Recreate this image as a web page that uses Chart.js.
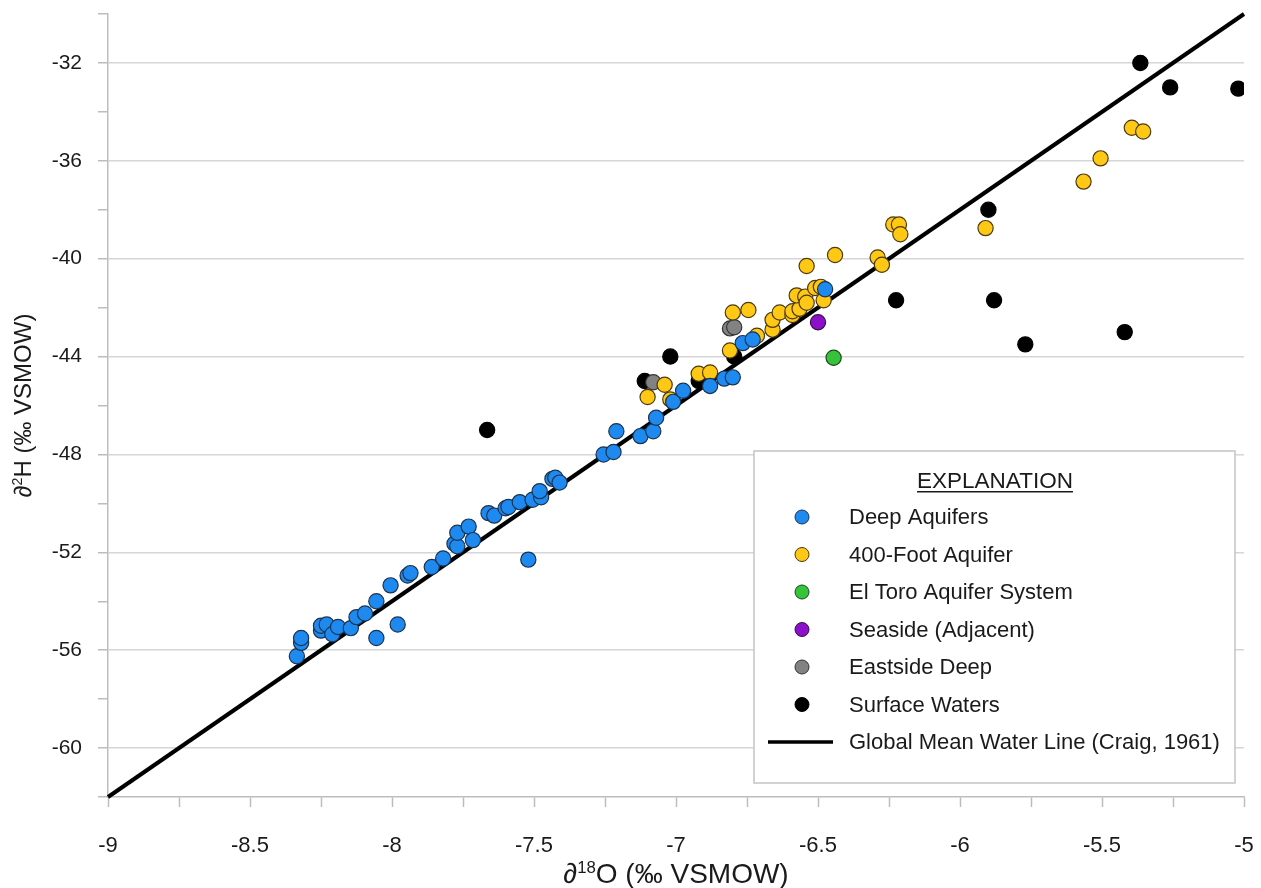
<!DOCTYPE html>
<html>
<head>
<meta charset="utf-8">
<script src="https://cdn.jsdelivr.net/npm/chart.js@4.4.1/dist/chart.umd.min.js"></script>
<style>
  html, body { margin: 0; padding: 0; background: #fff; }
  #wrap { width: 1261px; height: 888px; }
</style>
</head>
<body>
<div id="wrap"><canvas id="isotopes"></canvas></div>
<script>
// d18O (x) and d2H (y), per mil VSMOW, one pair of arrays per source
const deepO = [-8.335, -8.32, -8.32, -8.25, -8.25, -8.23, -8.21, -8.19, -8.145, -8.125,
  -8.095, -8.055, -8.055, -8.005, -7.98, -7.945, -7.935, -7.86, -7.82, -7.78,
  -7.77, -7.77, -7.73, -7.715, -7.66, -7.64, -7.6, -7.59, -7.55, -7.505,
  -7.475, -7.48, -7.52, -7.435, -7.425, -7.41, -7.255, -7.22, -7.21, -7.125,
  -7.08, -7.07, -7.01, -6.975, -6.88, -6.83, -6.8, -6.765, -6.73, -6.475];
const deepH = [-56.25, -55.7, -55.5, -55.2, -55.0, -54.95, -55.35, -55.05, -55.1, -54.65,
  -54.5, -54.0, -55.5, -53.35, -54.95, -52.95, -52.85, -52.6, -52.25, -51.65,
  -51.75, -51.2, -50.95, -51.5, -50.4, -50.5, -50.2, -50.15, -49.95, -49.85,
  -49.75, -49.5, -52.3, -49.0, -48.95, -49.15, -48.0, -47.9, -47.05, -47.25,
  -47.05, -46.5, -45.85, -45.4, -45.2, -44.9, -44.85, -43.45, -43.3, -41.25];

const fourHundredO = [-7.1, -7.04, -7.02, -6.92, -6.88, -6.81, -6.8, -6.745, -6.715, -6.66,
  -6.66, -6.635, -6.59, -6.59, -6.565, -6.575, -6.545, -6.54, -6.54, -6.51,
  -6.49, -6.48, -6.44, -6.29, -6.275, -6.235, -6.215, -6.21, -5.91, -5.565,
  -5.505, -5.395, -5.355];
const fourHundredH = [-45.65, -45.15, -45.75, -44.7, -44.65, -43.75, -42.2, -42.1, -43.15, -42.9,
  -42.5, -42.2, -42.3, -42.15, -42.05, -41.5, -41.55, -41.8, -40.3, -41.2,
  -41.15, -41.7, -39.85, -39.95, -40.25, -38.6, -38.6, -39.0, -38.75, -36.85,
  -35.9, -34.65, -34.8];

const elToroO = [-6.445];
const elToroH = [-44.05];

const seasideO = [-6.5];
const seasideH = [-42.6];

const eastsideO = [-7.08, -6.81, -6.795];
const eastsideH = [-45.05, -42.85, -42.8];

const surfaceO = [-7.665, -7.11, -7.02, -6.92, -6.795, -6.225, -5.9, -5.88, -5.77, -5.42,
  -5.365, -5.26, -5.02];
const surfaceH = [-47.0, -45.0, -44.0, -45.0, -44.0, -41.7, -38.0, -41.7, -43.5, -43.0,
  -32.0, -33.0, -33.05];

// Craig (1961) global meteoric water line, end points across the plot
const gmwlO = [-9, -5];
const gmwlH = [-62, -30];

// axis ticks
const xMin = -9, xMax = -5, xStep = 0.25, xLabelStep = 0.5;
const yMin = -62, yMax = -30, yStep = 2, yLabelStep = 4;

const zip = (xs, ys) => xs.map((x, i) => ({ x: x, y: ys[i] }));

const SANS = "'Liberation Sans', Arial, sans-serif";
const INK = '#1a1a1a';

function pointSet(label, xs, ys, fill, border, order) {
  return {
    type: 'scatter',
    label: label,
    data: zip(xs, ys),
    backgroundColor: fill,
    borderColor: border,
    borderWidth: 1.2,
    pointRadius: 7.6,
    pointHoverRadius: 7.6,
    order: order
  };
}

const datasets = [
  pointSet('Deep Aquifers', deepO, deepH, '#1e8af0', '#1b3350', 1),
  pointSet('400-Foot Aquifer', fourHundredO, fourHundredH, '#ffc814', '#4a3a10', 4),
  pointSet('El Toro Aquifer System', elToroO, elToroH, '#36c23a', '#1c4a1e', 2),
  pointSet('Seaside (Adjacent)', seasideO, seasideH, '#8b10c8', '#35104a', 3),
  pointSet('Eastside Deep', eastsideO, eastsideH, '#828282', '#333333', 5),
  pointSet('Surface Waters', surfaceO, surfaceH, '#000000', '#000000', 6),
  {
    type: 'line',
    label: 'Global Mean Water Line (Craig, 1961)',
    data: zip(gmwlO, gmwlH),
    borderColor: '#000000',
    borderWidth: 4,
    pointRadius: 0,
    fill: false,
    clip: false,
    order: 10
  }
];

// text with superscript runs, e.g. the isotope mass numbers
function drawRuns(ctx, runs, cx, cy, size) {
  let total = 0;
  runs.forEach(r => {
    ctx.font = (r.sup ? size * 0.6 : size) + 'px ' + SANS;
    r.w = ctx.measureText(r.t).width;
    total += r.w;
  });
  let x = cx - total / 2;
  ctx.textAlign = 'left';
  ctx.textBaseline = 'alphabetic';
  runs.forEach(r => {
    ctx.font = (r.sup ? size * 0.6 : size) + 'px ' + SANS;
    ctx.fillText(r.t, x, r.sup ? cy - size * 0.36 : cy);
    x += r.w;
  });
}

const axisTitles = {
  id: 'axisTitles',
  afterDraw(chart) {
    const ctx = chart.ctx;
    const area = chart.chartArea;
    ctx.save();
    ctx.fillStyle = INK;
    drawRuns(ctx, [{ t: '\u2202' }, { t: '18', sup: true }, { t: 'O (\u2030 VSMOW)' }],
      (area.left + area.right) / 2, 883, 28);
    ctx.translate(31, (area.top + area.bottom) / 2);
    ctx.rotate(-Math.PI / 2);
    drawRuns(ctx, [{ t: '\u2202' }, { t: '2', sup: true }, { t: 'H (\u2030 VSMOW)' }],
      0, 0, 24);
    ctx.restore();
  }
};

// boxed "EXPLANATION" key in the lower right of the plot
const explanation = {
  id: 'explanation',
  afterDraw(chart) {
    const ctx = chart.ctx;
    const box = { left: 754, top: 451, right: 1235, bottom: 783 };
    ctx.save();
    ctx.fillStyle = '#ffffff';
    ctx.fillRect(box.left, box.top, box.right - box.left, box.bottom - box.top);
    ctx.strokeStyle = '#c4c4c4';
    ctx.lineWidth = 1.5;
    ctx.strokeRect(box.left, box.top, box.right - box.left, box.bottom - box.top);

    ctx.fillStyle = INK;
    ctx.font = '22.5px ' + SANS;
    ctx.textAlign = 'center';
    ctx.textBaseline = 'alphabetic';
    const title = 'EXPLANATION';
    const tx = 995, ty = 488;
    ctx.fillText(title, tx, ty);
    const tw = ctx.measureText(title).width;
    ctx.fillRect(tx - tw / 2, ty + 3, tw, 1.5);

    const rowTop = 517, rowGap = 37.5;
    ctx.font = '22px ' + SANS;
    ctx.textAlign = 'left';
    ctx.textBaseline = 'middle';
    chart.data.datasets.forEach((ds, i) => {
      const y = rowTop + i * rowGap;
      if (ds.type === 'line') {
        ctx.strokeStyle = ds.borderColor;
        ctx.lineWidth = 3.5;
        ctx.beginPath();
        ctx.moveTo(768, y);
        ctx.lineTo(833, y);
        ctx.stroke();
      } else {
        ctx.beginPath();
        ctx.arc(802, y, 7, 0, Math.PI * 2);
        ctx.fillStyle = ds.backgroundColor;
        ctx.fill();
        ctx.lineWidth = 1;
        ctx.strokeStyle = ds.borderColor;
        ctx.stroke();
      }
      ctx.fillStyle = INK;
      ctx.fillText(ds.label, 849, y + 1);
    });
    ctx.restore();
  }
};

const isMultiple = (v, step) => Math.abs(v / step - Math.round(v / step)) < 1e-6;

new Chart(document.getElementById('isotopes'), {
  data: { datasets: datasets },
  plugins: [axisTitles, explanation],
  options: {
    responsive: true,
    maintainAspectRatio: false,
    devicePixelRatio: 1,
    animation: false,
    layout: { padding: { top: 14, right: 17, left: 0, bottom: 0 } },
    plugins: {
      legend: { display: false },
      tooltip: { enabled: false }
    },
    scales: {
      x: {
        type: 'linear',
        min: xMin,
        max: xMax,
        afterFit(scale) {
          scale.height = 91;
          scale.paddingLeft = 0;
          scale.paddingRight = 0;
        },
        afterBuildTicks(scale) {
          const t = [];
          for (let v = xMin; v <= xMax + 1e-9; v += xStep) t.push({ value: +v.toFixed(2) });
          scale.ticks = t;
        },
        ticks: {
          autoSkip: false,
          maxRotation: 0,
          padding: 26,
          color: INK,
          font: { family: SANS, size: 22 },
          callback: v => isMultiple(v, xLabelStep) ? String(+v.toFixed(2)) : ''
        },
        grid: {
          drawOnChartArea: false,
          drawTicks: true,
          tickLength: 10,
          tickColor: '#bdbdbd',
          tickWidth: 1.5
        },
        border: { color: '#bdbdbd', width: 1.5 }
      },
      y: {
        type: 'linear',
        min: yMin,
        max: yMax,
        afterFit(scale) {
          scale.width = 108;
          scale.paddingTop = 0;
          scale.paddingBottom = 0;
        },
        afterBuildTicks(scale) {
          const t = [];
          for (let v = yMin; v <= yMax; v += yStep) t.push({ value: v });
          scale.ticks = t;
        },
        ticks: {
          autoSkip: false,
          padding: 16,
          color: INK,
          font: { family: SANS, size: 21 },
          callback: v => isMultiple(v, yLabelStep) ? String(v) : ''
        },
        grid: {
          drawTicks: true,
          tickLength: 10,
          tickColor: '#bdbdbd',
          tickWidth: 1.5,
          lineWidth: 1.5,
          color: c => (c.tick && isMultiple(c.tick.value, yLabelStep) && c.tick.value !== yMax) ? '#d6d6d6' : 'rgba(0,0,0,0)'
        },
        border: { color: '#bdbdbd', width: 1.5 }
      }
    }
  }
});
</script>
</body>
</html>
